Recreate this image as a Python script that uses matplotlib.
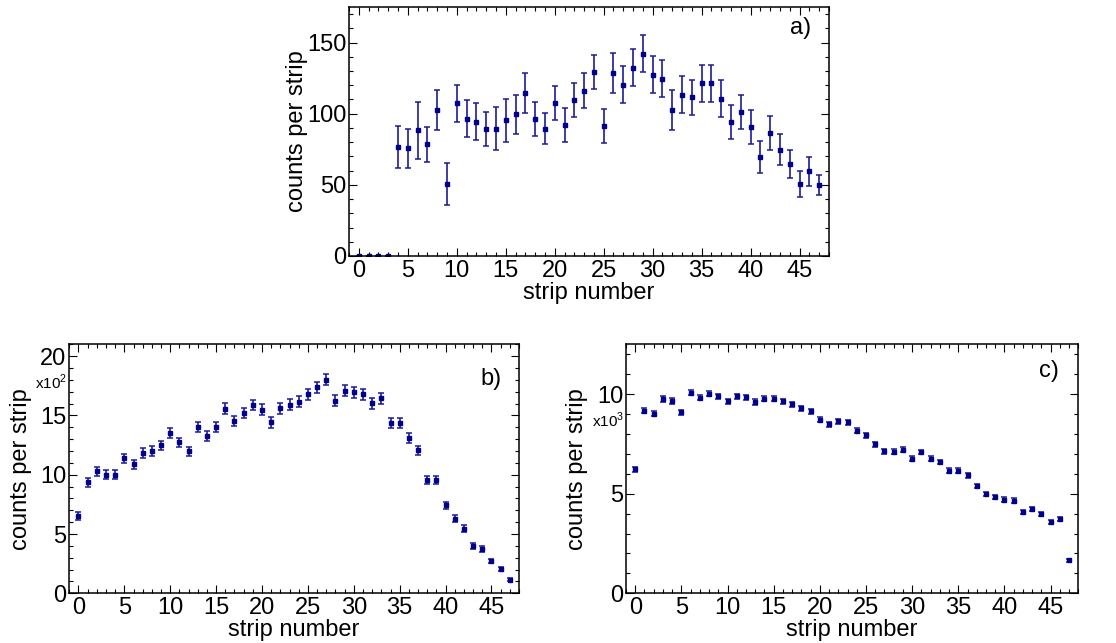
import numpy as np
import matplotlib
matplotlib.use("Agg")
import matplotlib.pyplot as plt
from matplotlib.ticker import MultipleLocator

plt.rcParams['font.family'] = ['Liberation Sans', 'DejaVu Sans']
plt.rcParams['mathtext.fontset'] = 'custom'
plt.rcParams['mathtext.rm'] = 'Liberation Sans'

strips = np.arange(48)

# a) counts per strip
counts_a = [0, 0, 0, 0, 76.7, 75.6, 88.4, 78.4, 102.6, 50.7,
            107.4, 96.5, 94.4, 89.5, 89.5, 95.3, 99.5, 114.4, 96.3, 89.5,
            107.4, 92.3, 109.5, 116.3, 129.3, 91.4, 128.4, 120.2, 132.3, 142.1,
            127.4, 124.4, 102.6, 113.3, 111.4, 121.4, 121.4, 110.5, 94.4, 101.4,
            90.5, 69.5, 86.5, 74.7, 64.7, 50.7, 59.5, 49.8]
errors_a = [0, 0, 0, 0, 15, 14, 20, 12, 14, 15,
            13, 13, 13, 12, 15, 15, 14, 14, 12, 11,
            12, 12, 12, 12, 12, 12, 14, 13, 13, 13,
            13, 13, 14, 13, 12, 13, 13, 13, 12, 12,
            12, 11, 12, 11, 10, 9, 10, 7]

# b) counts per strip, in units of 10^2
counts_b = [6.52, 9.35, 10.28, 10.0, 10.0, 11.38, 10.87, 11.83, 12.0, 12.47,
            13.51, 12.72, 11.97, 14.02, 13.29, 14.02, 15.56, 14.55, 15.2, 15.87,
            15.48, 14.41, 15.59, 15.9, 16.15, 16.8, 17.39, 18.03, 16.24, 17.08,
            16.97, 16.77, 16.01, 16.46, 14.38, 14.38, 13.12, 12.05, 9.58, 9.55,
            7.42, 6.29, 5.45, 3.99, 3.74, 2.72, 2.05, 1.15]
errors_b = [0.30, 0.37, 0.38, 0.37, 0.37, 0.40, 0.38, 0.40, 0.40, 0.41,
            0.42, 0.41, 0.40, 0.43, 0.42, 0.43, 0.45, 0.44, 0.44, 0.45,
            0.45, 0.43, 0.45, 0.45, 0.46, 0.46, 0.47, 0.48, 0.46, 0.47,
            0.47, 0.47, 0.46, 0.46, 0.43, 0.43, 0.41, 0.40, 0.35, 0.35,
            0.31, 0.29, 0.27, 0.23, 0.22, 0.19, 0.17, 0.13]

# c) counts per strip, in units of 10^3
counts_c = [6.22, 9.16, 9.01, 9.75, 9.65, 9.09, 10.07, 9.82, 10.02, 9.88,
            9.63, 9.88, 9.83, 9.60, 9.77, 9.77, 9.63, 9.48, 9.28, 9.13,
            8.71, 8.49, 8.64, 8.59, 8.17, 7.94, 7.48, 7.13, 7.10, 7.20,
            6.76, 7.08, 6.76, 6.58, 6.16, 6.16, 5.92, 5.40, 4.97, 4.83,
            4.70, 4.65, 4.08, 4.21, 3.99, 3.56, 3.71, 1.66]
errors_c = [0.11, 0.13, 0.13, 0.13, 0.13, 0.13, 0.13, 0.13, 0.13, 0.13,
            0.13, 0.13, 0.13, 0.13, 0.13, 0.13, 0.13, 0.13, 0.13, 0.13,
            0.12, 0.12, 0.12, 0.12, 0.12, 0.12, 0.12, 0.12, 0.12, 0.12,
            0.12, 0.11, 0.11, 0.11, 0.11, 0.11, 0.11, 0.11, 0.11, 0.11,
            0.11, 0.11, 0.10, 0.10, 0.10, 0.10, 0.10, 0.07]

MARK = '#00008b'
ERR = '#1c1c94'

fig = plt.figure(figsize=(11.16, 6.43), dpi=100)
W, H = 1116.0, 643.0


def px_axes(left, top, right, bottom):
    return fig.add_axes([left / W, 1 - bottom / H, (right - left) / W, (bottom - top) / H])


def style(ax, ymajor, yminor, ymax, fs):
    ax.set_xlim(-1, 48)
    ax.set_ylim(0, ymax)
    ax.xaxis.set_major_locator(MultipleLocator(5))
    ax.xaxis.set_minor_locator(MultipleLocator(1))
    ax.yaxis.set_major_locator(MultipleLocator(ymajor))
    ax.yaxis.set_minor_locator(MultipleLocator(yminor))
    ax.tick_params(which='both', direction='in', top=True, right=True, width=0.8)
    ax.tick_params(which='major', length=5.5, labelsize=fs, pad=3)
    ax.tick_params(which='minor', length=3)
    ax.tick_params(axis='y', which='major', pad=2)
    for s in ax.spines.values():
        s.set_linewidth(1.1)
    ax.set_xlabel('strip number', fontsize=fs)
    ax.set_ylabel('counts per strip', fontsize=fs)
    ax.xaxis.set_label_coords(0.5, -0.105)
    ax.xaxis.label.set_va('top')


def draw(ax, y, e):
    ax.errorbar(strips, y, yerr=e, fmt='s', ms=3.1, mfc=MARK, mec=MARK,
                ecolor=ERR, elinewidth=1.2, capsize=2.5, capthick=1.1)


ax_a = px_axes(349, 7, 829, 256)
draw(ax_a, counts_a, errors_a)
style(ax_a, 50, 10, 175, 17)
ax_a.yaxis.set_label_coords(-0.086, 0.5)
ax_a.text(0.94, 0.915, 'a)', transform=ax_a.transAxes, fontsize=17,
          ha='center', va='center')

ax_b = px_axes(69.3, 344.3, 519, 593.3)
draw(ax_b, counts_b, errors_b)
style(ax_b, 5, 1, 21, 17)
ax_b.yaxis.set_label_coords(-0.083, 0.5)
ax_b.text(0.938, 0.861, 'b)', transform=ax_b.transAxes, fontsize=17,
          ha='center', va='center')
ax_b.text(-0.004, 0.849, r'x10$^{2}$', transform=ax_b.transAxes, fontsize=11,
          ha='right', va='center')

ax_c = px_axes(626, 344.3, 1078.3, 593.3)
draw(ax_c, counts_c, errors_c)
style(ax_c, 5, 1, 12.5, 17)
ax_c.yaxis.set_label_coords(-0.084, 0.5)
ax_c.text(0.935, 0.893, 'c)', transform=ax_c.transAxes, fontsize=17,
          ha='center', va='center')
ax_c.text(-0.004, 0.695, r'x10$^{3}$', transform=ax_c.transAxes, fontsize=11,
          ha='right', va='center')

fig.savefig('out.png', dpi=100)
